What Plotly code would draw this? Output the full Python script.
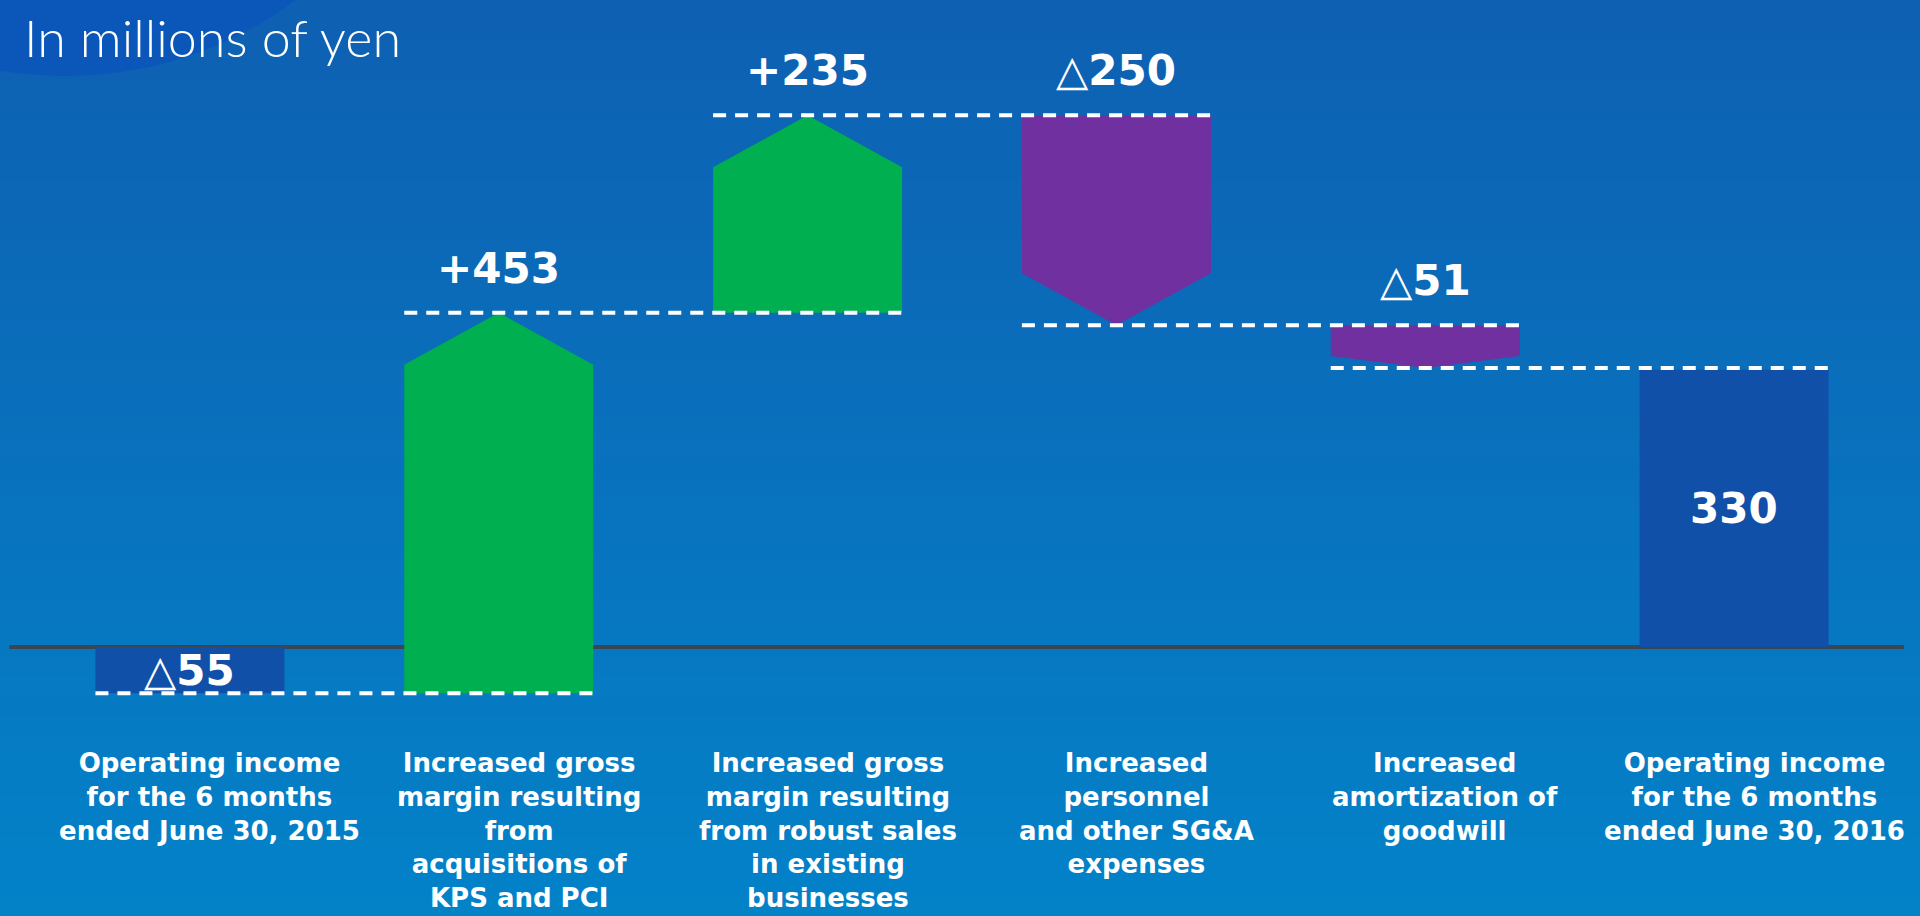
import plotly.graph_objects as go

# data
categories = [
    "Operating income<br>for the 6 months<br>ended June 30, 2015",
    "Increased gross<br>margin resulting<br>from<br>acquisitions of<br>KPS and PCI",
    "Increased gross<br>margin resulting<br>from robust sales<br>in existing<br>businesses",
    "Increased<br>personnel<br>and other SG&A<br>expenses",
    "Increased<br>amortization of<br>goodwill",
    "Operating income<br>for the 6 months<br>ended June 30, 2016",
]
values = [-55, 453, 235, -250, -51, 330]
measures = ["absolute", "relative", "relative", "relative", "relative", "total"]
value_labels = ["△55", "+453", "+235", "△250", "△51", "330"]

GREEN = "#00AF50"
PURPLE = "#7030A0"
TOTAL = "#1150A8"
HW = 0.306  # half bar width in category units

# running totals
starts, ends = [], []
run = 0
for v, m in zip(values, measures):
    if m in ("absolute", "total"):
        s, e = 0, v
    else:
        s, e = run, run + v
    run = e
    starts.append(s)
    ends.append(e)

fig = go.Figure()

# background gradient bands (paper coords)
top_c = (14, 96, 178)
bot_c = (3, 130, 200)
n = 46
for k in range(n):
    t = k / (n - 1)
    c = tuple(round(top_c[j] + (bot_c[j] - top_c[j]) * t) for j in range(3))
    fig.add_shape(type="rect", xref="paper", yref="paper",
                  x0=0, x1=1, y0=1 - (k + 1) / n - 0.002, y1=1 - k / n,
                  fillcolor="rgb(%d,%d,%d)" % c, line_width=0, layer="below")
# decorative blob top-left
fig.add_shape(type="circle", xref="paper", yref="paper",
              x0=-300 / 1920, x1=430 / 1920, y0=1 - 76 / 916, y1=1 + 600 / 916,
              fillcolor="rgba(10,84,186,0.8)", line_width=0, layer="below")

# baseline
fig.add_trace(go.Scatter(x=[-0.585, 5.55], y=[0, 0], mode="lines",
                         line=dict(color="#3B4651", width=4),
                         hoverinfo="skip", showlegend=False))

# bars
for i, (s, e, m) in enumerate(zip(starts, ends, measures)):
    v = e - s
    if m in ("absolute", "total"):
        xs = [i - HW, i + HW, i + HW, i - HW, i - HW]
        ys = [s, s, e, e, s]
        col = TOTAL
    else:
        head = min(62, 0.28 * abs(v))
        if v > 0:
            xs = [i - HW, i - HW, i, i + HW, i + HW, i - HW]
            ys = [s, e - head, e, e - head, s, s]
            col = GREEN
        else:
            xs = [i - HW, i + HW, i + HW, i, i - HW, i - HW]
            ys = [s, s, e + head, e, e + head, s]
            col = PURPLE
    fig.add_trace(go.Scatter(x=xs, y=ys, mode="lines", fill="toself",
                             fillcolor=col, line=dict(width=0, color=col),
                             hoverinfo="skip", showlegend=False))

# dashed connectors
for i in range(len(values) - 1):
    lvl = ends[i]
    fig.add_trace(go.Scatter(x=[i - HW, i + 1 + HW], y=[lvl, lvl], mode="lines",
                             line=dict(color="white", width=4, dash="13px,9px"),
                             hoverinfo="skip", showlegend=False))

# value labels
lab_font = dict(family="DejaVu Sans", size=42, color="white", weight="bold")
for i, (s, e, m) in enumerate(zip(starts, ends, measures)):
    if m in ("absolute", "total"):
        fig.add_annotation(x=i, y=(s + e) / 2, text=value_labels[i], showarrow=False,
                           font=lab_font, yanchor="middle")
    else:
        fig.add_annotation(x=i, y=max(s, e), text=value_labels[i], showarrow=False,
                           font=lab_font, yanchor="bottom", yshift=18)

# category labels
for i, c in enumerate(categories):
    fig.add_annotation(x=i, y=-118, text=c, showarrow=False, yanchor="top", xshift=20,
                       font=dict(family="DejaVu Sans", size=26, color="white", weight="bold"))

fig.add_annotation(xref="paper", yref="paper", x=22 / 1920, y=1 - 4 / 916,
                   text="In millions of yen", showarrow=False, xanchor="left", yanchor="top",
                   font=dict(family="Lato", size=52, color="white", weight=300))

fig.update_layout(
    width=1920, height=916,
    margin=dict(l=0, r=0, t=0, b=0),
    paper_bgcolor="#0A70BE", plot_bgcolor="rgba(0,0,0,0)",
    xaxis=dict(range=[-0.615, 5.602], visible=False, fixedrange=True),
    yaxis=dict(range=[-320.2, 770.2], visible=False, fixedrange=True),
    showlegend=False,
)

fig.write_html("out.html", config={"displayModeBar": False},
               post_script="document.body.style.margin='0';document.body.style.overflow='hidden';")
